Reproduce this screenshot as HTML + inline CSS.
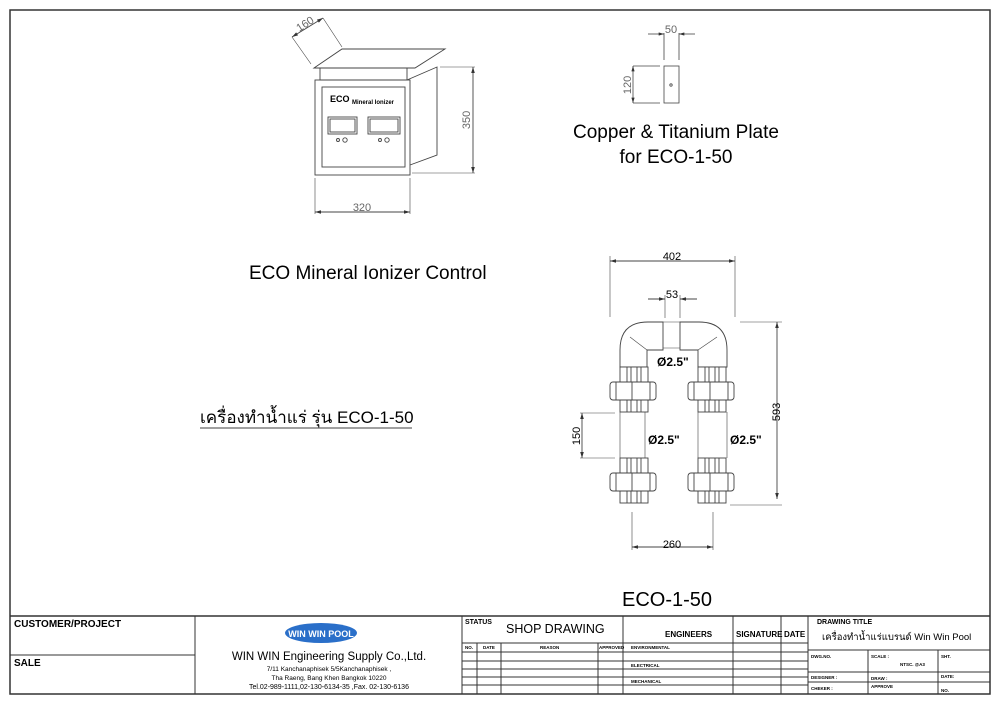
<!DOCTYPE html>
<html><head><meta charset="utf-8"><style>
body{margin:0;background:#fff}
svg{display:block}
text{font-family:"Liberation Sans","Noto Sans CJK SC",sans-serif;fill:#000}
</style></head><body>
<svg width="1000" height="703" viewBox="0 0 1000 703" xmlns="http://www.w3.org/2000/svg">
<defs>
<marker id="a" viewBox="0 0 10 6" refX="10" refY="3" markerWidth="7" markerHeight="4" orient="auto-start-reverse"><path d="M0,0 L10,3 L0,6 Z" fill="#333"/></marker>
<g id="u" stroke="#444" fill="#fff" stroke-width="0.9">
<rect x="0" y="0" width="28" height="45"/>
<line x1="7" y1="0" x2="7" y2="45"/><line x1="11" y1="0" x2="11" y2="45"/><line x1="17" y1="0" x2="17" y2="45"/><line x1="21" y1="0" x2="21" y2="45"/>
<rect x="-10" y="15" width="46" height="18" rx="3"/>
<line x1="-4" y1="15" x2="-4" y2="33"/><line x1="12" y1="15" x2="12" y2="33"/><line x1="30" y1="15" x2="30" y2="33"/>
</g>
</defs>
<rect x="10" y="10" width="980" height="684" fill="none" stroke="#333" stroke-width="1.5"/>
<g stroke="#333" fill="none">
<line x1="10" y1="616" x2="990" y2="616" stroke-width="1.5"/>
<line x1="195" y1="616" x2="195" y2="694"/>
<line x1="462" y1="616" x2="462" y2="694"/>
<line x1="10" y1="655" x2="195" y2="655"/>
<line x1="623" y1="616" x2="623" y2="694"/>
<line x1="733" y1="616" x2="733" y2="694"/>
<line x1="781" y1="616" x2="781" y2="694"/>
<line x1="808" y1="616" x2="808" y2="694"/>
<line x1="462" y1="643" x2="808" y2="643"/>
<line x1="462" y1="652" x2="808" y2="652"/>
<line x1="462" y1="661" x2="808" y2="661"/>
<line x1="462" y1="669" x2="808" y2="669"/>
<line x1="462" y1="677" x2="808" y2="677"/>
<line x1="462" y1="685" x2="808" y2="685"/>
<line x1="477" y1="643" x2="477" y2="694"/>
<line x1="501" y1="643" x2="501" y2="694"/>
<line x1="598" y1="643" x2="598" y2="694"/>
<line x1="808" y1="650" x2="990" y2="650"/>
<line x1="808" y1="672" x2="990" y2="672"/>
<line x1="808" y1="682" x2="990" y2="682"/>
<line x1="868" y1="650" x2="868" y2="694"/>
<line x1="938" y1="650" x2="938" y2="694"/>
</g>
<text x="14" y="627" font-size="10" font-weight="bold">CUSTOMER/PROJECT</text>
<text x="14" y="666" font-size="10" font-weight="bold">SALE</text>
<ellipse cx="321" cy="633" rx="36" ry="10" fill="#2a6fc9"/>
<text x="321" y="637" font-size="9" font-weight="bold" text-anchor="middle" style="fill:#fff">WIN WIN POOL</text>
<text x="329" y="660" font-size="11.5" text-anchor="middle">WIN WIN Engineering Supply Co.,Ltd.</text>
<text x="329" y="671" font-size="6.5" text-anchor="middle">7/11 Kanchanaphisek 5/5Kanchanaphisek ,</text>
<text x="329" y="680" font-size="6.5" text-anchor="middle">Tha Raeng, Bang Khen Bangkok 10220</text>
<text x="329" y="689" font-size="7" text-anchor="middle">Tel.02-989-1111,02-130-6134-35  ,Fax. 02-130-6136</text>
<text x="465" y="624" font-size="7" font-weight="bold">STATUS</text>
<text x="506" y="633" font-size="12.5">SHOP DRAWING</text>
<text x="665" y="637" font-size="8" font-weight="bold">ENGINEERS</text>
<text x="736" y="637" font-size="8" font-weight="bold">SIGNATURE</text>
<text x="784" y="637" font-size="8" font-weight="bold">DATE</text>
<g font-size="4.5" font-weight="bold">
<text x="465" y="649">NO.</text><text x="483" y="649">DATE</text><text x="540" y="649">REASON</text><text x="599" y="649">APPROVED</text>
<text x="631" y="649">ENVIRONMENTAL</text><text x="631" y="667">ELECTRICAL</text><text x="631" y="683">MECHANICAL</text>
<text x="811" y="658">DWG.NO.</text><text x="871" y="658">SCALE :</text><text x="900" y="666">NTSC. @A3</text><text x="941" y="658">SHT.</text>
<text x="811" y="679">DESIGNER :</text><text x="871" y="680">DRAW :</text><text x="941" y="678">DATE:</text>
<text x="811" y="690">CHEKER :</text><text x="871" y="688">APPROVE</text><text x="941" y="692">NO.</text>
</g>
<text x="817" y="624" font-size="7" font-weight="bold">DRAWING TITLE</text>
<text x="822" y="640" font-size="9.5">เครื่องทำน้ำแร่แบรนด์ Win Win Pool</text>

<text x="676" y="138" font-size="19" text-anchor="middle">Copper &amp; Titanium Plate</text>
<text x="676" y="163" font-size="19" text-anchor="middle">for ECO-1-50</text>
<text x="249" y="279" font-size="19">ECO Mineral Ionizer Control</text>
<text x="200" y="423" font-size="17">เครื่องทำน้ำแร่ รุ่น ECO-1-50</text>
<line x1="200" y1="428" x2="412" y2="428" stroke="#000" stroke-width="0.8"/>
<text x="622" y="606" font-size="20">ECO-1-50</text>

<g stroke="#444" fill="none" stroke-width="0.9">
<polygon points="314,68 342,49 445,49 415,68"/>
<rect x="320" y="68" width="87" height="12"/>
<rect x="315" y="80" width="95" height="95"/>
<rect x="322" y="87" width="83" height="80"/>
<polyline points="407,80 437,67 437,155 410,165"/>
<rect x="328" y="117" width="29" height="17"/><rect x="330" y="119" width="25" height="13"/>
<rect x="368" y="117" width="32" height="17"/><rect x="370" y="119" width="28" height="13"/>
<circle cx="338" cy="140" r="1.5"/><circle cx="345" cy="140" r="2.2"/>
<circle cx="380" cy="140" r="1.5"/><circle cx="387" cy="140" r="2.2"/>
<line x1="440" y1="67" x2="475" y2="67" stroke-width="0.6"/>
<line x1="412" y1="173" x2="475" y2="173" stroke-width="0.6"/>
<line x1="473" y1="67" x2="473" y2="173" marker-start="url(#a)" marker-end="url(#a)"/>
<line x1="315" y1="178" x2="315" y2="214" stroke-width="0.6"/>
<line x1="410" y1="178" x2="410" y2="214" stroke-width="0.6"/>
<line x1="315" y1="212" x2="410" y2="212" marker-start="url(#a)" marker-end="url(#a)"/>
<line x1="292" y1="37" x2="323" y2="18" marker-start="url(#a)" marker-end="url(#a)"/>
<line x1="292" y1="37" x2="311" y2="64" stroke-width="0.6"/>
<line x1="323" y1="18" x2="342" y2="47" stroke-width="0.6"/>
</g>
<text x="330" y="102" font-size="9" font-weight="bold">ECO</text>
<text x="352" y="104" font-size="6" font-weight="bold">Mineral Ionizer</text>
<text x="362" y="211" font-size="11" text-anchor="middle" style="fill:#666">320</text>
<text x="0" y="0" font-size="11" transform="translate(470,120) rotate(-90)" text-anchor="middle" style="fill:#666">350</text>
<text x="0" y="0" font-size="11" transform="translate(307,27) rotate(-33)" text-anchor="middle" style="fill:#666">160</text>

<g stroke="#444" fill="none" stroke-width="0.8">
<rect x="664" y="66" width="15" height="37"/>
<circle cx="671" cy="85" r="1.2"/>
<line x1="664" y1="33" x2="664" y2="60"/><line x1="679" y1="33" x2="679" y2="60"/>
<line x1="648" y1="34" x2="664" y2="34" marker-end="url(#a)"/><line x1="695" y1="34" x2="679" y2="34" marker-end="url(#a)"/>
<line x1="633" y1="66" x2="660" y2="66"/><line x1="633" y1="103" x2="660" y2="103"/>
<line x1="633" y1="66" x2="633" y2="103" marker-start="url(#a)" marker-end="url(#a)"/>
</g>
<text x="671" y="33" font-size="11" text-anchor="middle" style="fill:#666">50</text>
<text x="0" y="0" font-size="11" transform="translate(631,85) rotate(-90)" text-anchor="middle" style="fill:#666">120</text>

<g stroke="#444" fill="none" stroke-width="0.9">
<line x1="610" y1="261" x2="735" y2="261" marker-start="url(#a)" marker-end="url(#a)"/>
<line x1="610" y1="256" x2="610" y2="317" stroke-width="0.6"/><line x1="735" y1="256" x2="735" y2="317" stroke-width="0.6"/>
<line x1="648" y1="299" x2="665" y2="299" marker-end="url(#a)"/><line x1="697" y1="299" x2="680" y2="299" marker-end="url(#a)"/>
<line x1="665" y1="295" x2="665" y2="318" stroke-width="0.6"/><line x1="680" y1="295" x2="680" y2="318" stroke-width="0.6"/>
<path d="M620,367 L620,350 Q620,322 648,322 L663,322 L663,350 L647,350 L647,367 Z"/>
<line x1="630" y1="337" x2="647" y2="350" stroke-width="0.6"/>
<path d="M727,367 L727,350 Q727,322 699,322 L680,322 L680,350 L698,350 L698,367 Z"/>
<line x1="717" y1="337" x2="698" y2="350" stroke-width="0.6"/>
<line x1="663" y1="322" x2="680" y2="322" stroke-width="0.6"/><line x1="663" y1="348" x2="680" y2="348" stroke-width="0.6"/>
<line x1="620" y1="412" x2="620" y2="458" stroke-width="0.6"/><line x1="645" y1="412" x2="645" y2="458" stroke-width="0.6"/>
<line x1="698" y1="412" x2="698" y2="458" stroke-width="0.6"/><line x1="727" y1="412" x2="727" y2="458" stroke-width="0.6"/>
<line x1="740" y1="322" x2="782" y2="322" stroke-width="0.6"/><line x1="730" y1="505" x2="782" y2="505" stroke-width="0.6"/>
<line x1="777" y1="322" x2="777" y2="499" marker-start="url(#a)" marker-end="url(#a)"/>
<line x1="580" y1="413" x2="615" y2="413" stroke-width="0.6"/><line x1="580" y1="458" x2="615" y2="458" stroke-width="0.6"/>
<line x1="582" y1="413" x2="582" y2="458" marker-start="url(#a)" marker-end="url(#a)"/>
<line x1="632" y1="512" x2="632" y2="550" stroke-width="0.6"/><line x1="713" y1="512" x2="713" y2="550" stroke-width="0.6"/>
<line x1="632" y1="547" x2="713" y2="547" marker-start="url(#a)" marker-end="url(#a)"/>
</g>
<use href="#u" x="620" y="367"/><use href="#u" x="698" y="367"/>
<use href="#u" x="620" y="458"/><use href="#u" x="698" y="458"/>
<g font-size="11" style="fill:#666" text-anchor="middle">
<text x="672" y="260">402</text><text x="672" y="298">53</text><text x="672" y="548">260</text>
<text transform="translate(780,412) rotate(-90)">593</text>
<text transform="translate(580,436) rotate(-90)">150</text>
</g>
<g font-size="12" font-weight="bold">
<text x="657" y="366">Ø2.5"</text><text x="648" y="444">Ø2.5"</text><text x="730" y="444">Ø2.5"</text>
</g>
</svg>
</body></html>
